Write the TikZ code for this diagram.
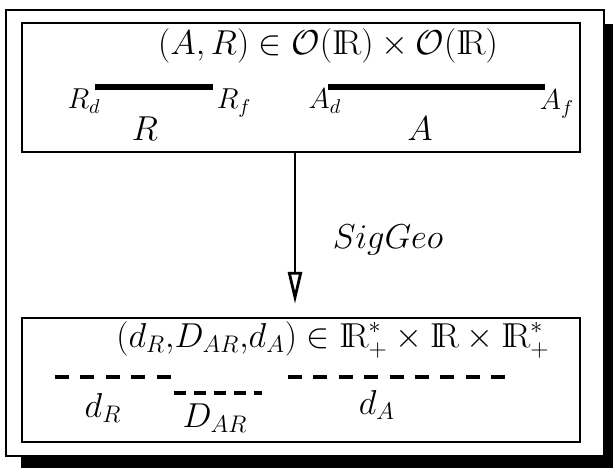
\documentclass[tikz,border=0pt]{standalone}
\usepackage{amsmath}
\usetikzlibrary{arrows.meta}
\newcommand{\IRset}{\mathrm{I\!R}}
\begin{document}
\begin{tikzpicture}[
  x=0.5pt, y=-0.5pt,
  sgbox/.style = {draw, line width=1.2pt, inner sep=0pt},
  sgseg/.style = {line width=3pt},
  sgdash/.style = {line width=2.3pt, dash pattern=on 7pt off 5.7pt},
  sgdashb/.style = {line width=2.3pt, dash pattern=on 6pt off 4pt},
  sgbig/.style = {font=\fontsize{16.5}{19}\selectfont},
  sgmid/.style = {font=\fontsize{17}{20}\selectfont},
  sgsmall/.style = {font=\fontsize{14}{16}\selectfont},
  sgarrow/.style = {-{Triangle[open, length=16pt, width=7pt, line width=1.4pt]}, line width=1pt}
]
  \useasboundingbox (0,0) rectangle (613,468);
  % cadre et ombre
  \fill[black] (21,24) rectangle (613,468);
  \node (cadre) [sgbox, fill=white, minimum width=299pt, minimum height=223pt] at (305,233) {};
  % boite du haut
  \node (haut) [sgbox, minimum width=279pt, minimum height=64.5pt] at (301,87.5) {};
  \node (fhaut) [sgbig] at (328,46) {$(A,R) \in \mathcal{O}(\IRset) \times \mathcal{O}(\IRset)$};
  \coordinate (Rd) at (95,87);
  \coordinate (Rf) at (213,87);
  \coordinate (Ad) at (328,87);
  \coordinate (Af) at (545,87);
  \draw[sgseg] (Rd) -- (Rf);
  \draw[sgseg] (Ad) -- (Af);
  \node (lRd) [sgsmall] at (84,101) {$R_d$};
  \node (lRf) [sgsmall] at (234,103) {$R_f$};
  \node (lAd) [sgsmall] at (325,101) {$A_d$};
  \node (lAf) [sgsmall] at (557,104) {$A_f$};
  \node (lR) [sgmid] at (145,129) {$R$};
  \node (lA) [sgmid] at (420,129) {$A$};
  % boite du bas
  \node (bas) [sgbox, minimum width=279pt, minimum height=62pt] at (301,380) {};
  \node (fbas) [font=\fontsize{17}{20}\selectfont] at (333,340) {$(d_R{,}D_{AR}{,}d_A) \in \IRset^*_+ \times \IRset \times \IRset^*_+$};
  \coordinate (dR1) at (55,377);
  \coordinate (dR2) at (172,377);
  \coordinate (D1) at (174,393);
  \coordinate (D2) at (262,393);
  \coordinate (dA1) at (288,377);
  \coordinate (dA2) at (506,377);
  \draw[sgdash] (dR1) -- (dR2);
  \draw[sgdashb] (D1) -- (D2);
  \draw[sgdash] (dA1) -- (dA2);
  \node (ldR) [sgmid] at (103,408) {$d_R$};
  \node (lD) [sgmid] at (215,418) {$D_{AR}$};
  \node (ldA) [sgmid] at (377,405) {$d_A$};
  % fleche
  \draw[sgarrow, shorten >=6.5pt] ([xshift=-3pt]haut.south) -- ([xshift=-3pt]bas.north);
  \node (sig) [font=\fontsize{17}{20}\selectfont] at (388,240) {$SigGeo$};
\end{tikzpicture}
\end{document}
